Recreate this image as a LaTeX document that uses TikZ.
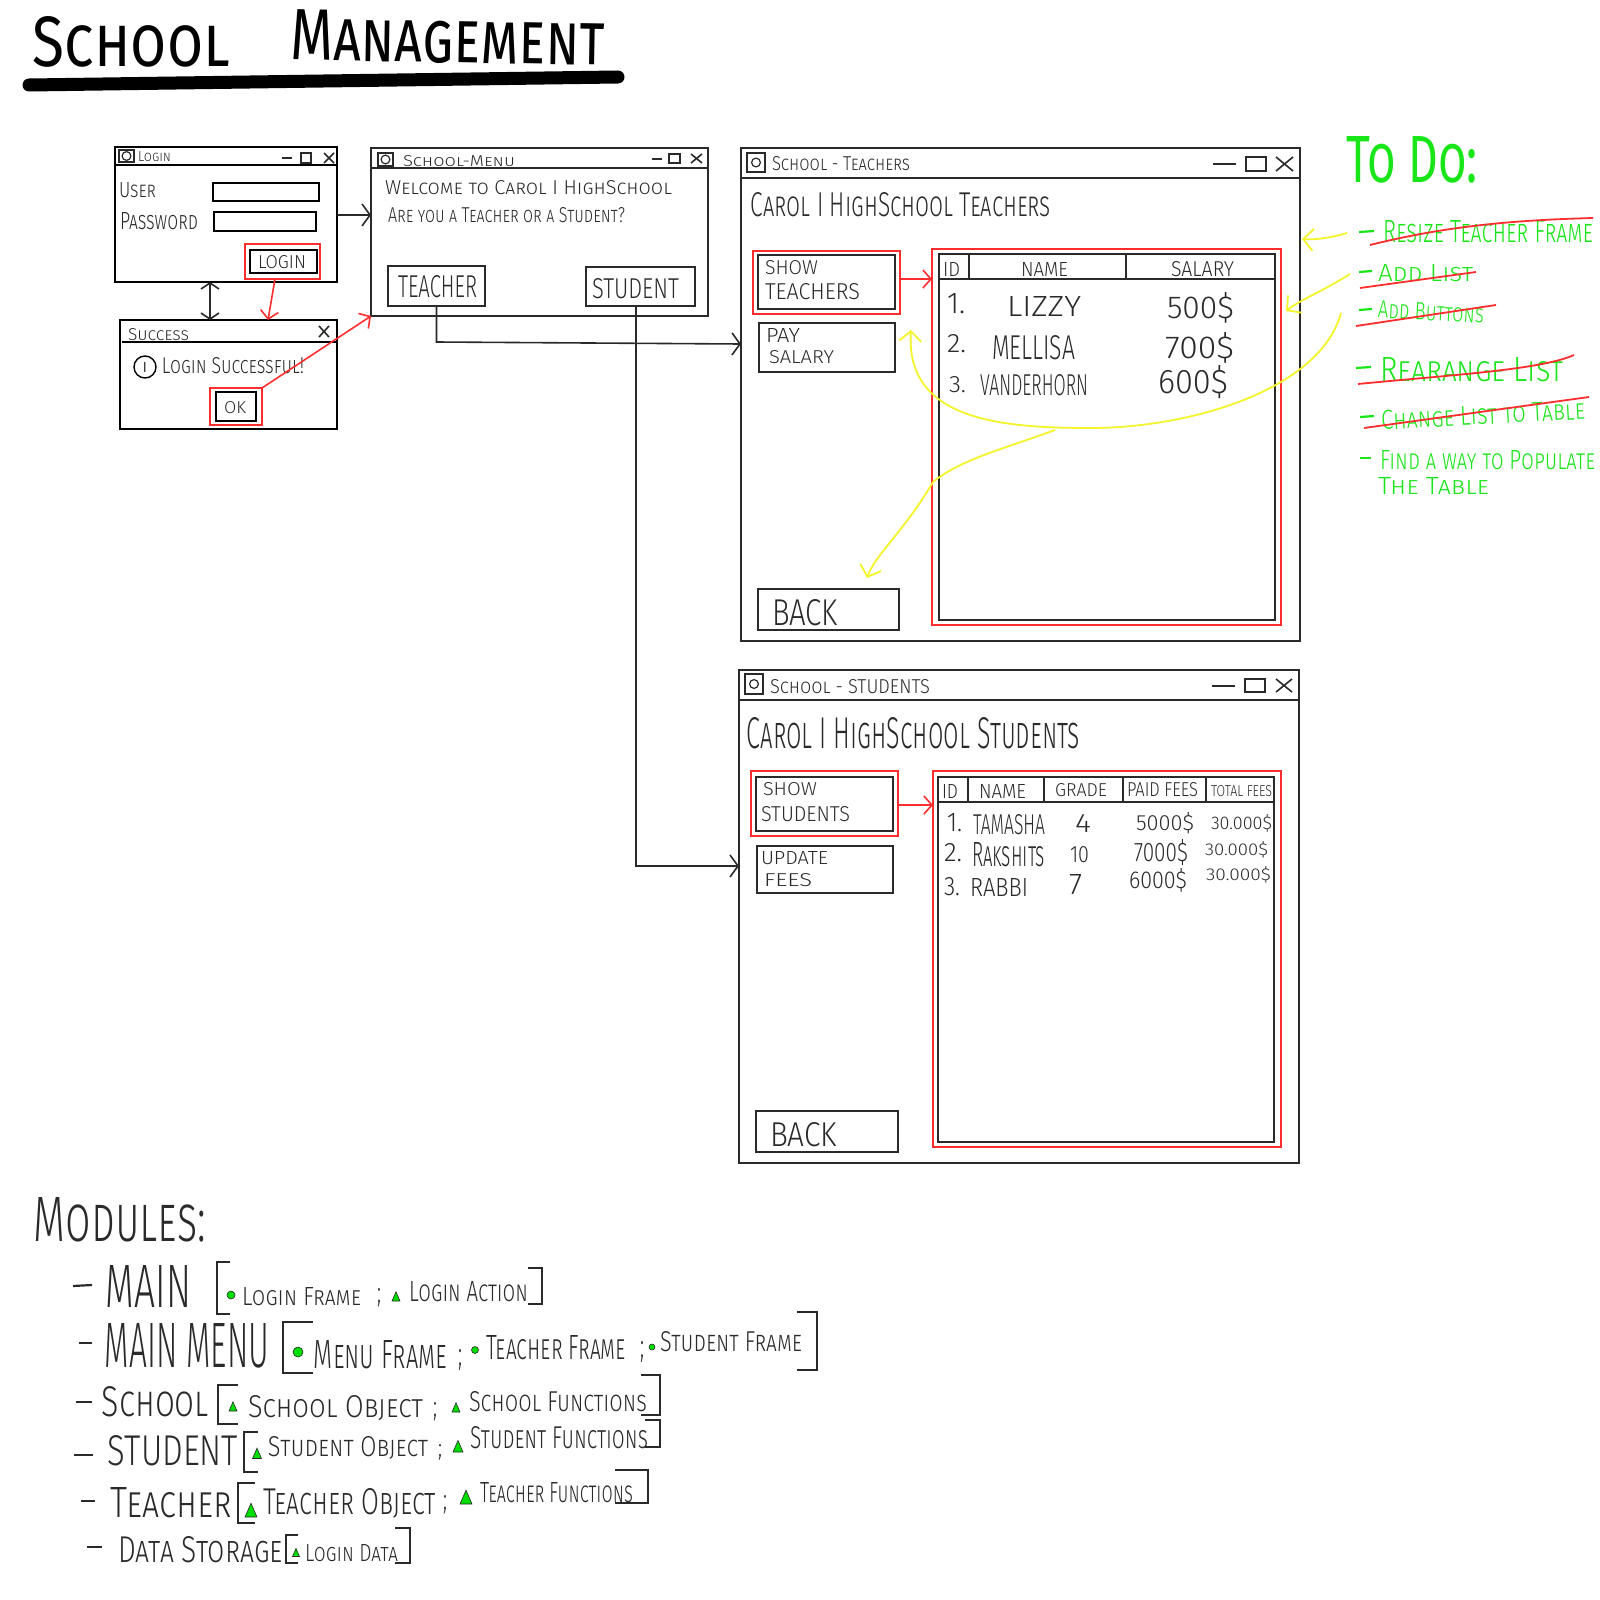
\documentclass[tikz,border=0pt]{standalone}
\usepackage{graphicx}
\usepackage{fontspec}
\usetikzlibrary{arrows.meta}
\newfontfamily\hand[Letters=SmallCaps]{Fira Sans Light}
\newfontfamily\handb[Letters=SmallCaps]{Fira Sans}
\definecolor{ink}{HTML}{2A2A2A}
\definecolor{rd}{HTML}{FF2E2E}
\definecolor{yl}{HTML}{F4F42A}
\definecolor{gr}{HTML}{19E619}
\definecolor{mk}{HTML}{00DD00}
\tikzset{
  lab/.style={inner sep=0pt,outer sep=0pt,text=ink,font=\hand},
  ttl/.style={text=black,font=\handb},
  todo/.style={text=gr},
  bx/.style={draw=ink,line width=1pt,inner sep=0pt,outer sep=0pt,rectangle},
  hv/.style={bx,draw=black,line width=1.4pt},
  rbx/.style={bx,draw=rd,line width=1pt},
  ln/.style={draw=ink,line width=1pt},
  blk/.style={draw=ink,line width=.8pt,-{Straight Barb[length=4pt,width=11pt,line width=.8pt]}},
  redarr/.style={draw=rd,line width=.8pt,-{Straight Barb[length=4pt,width=9pt,line width=.8pt]}},
  yel/.style={draw=yl,line width=.9pt,-{Straight Barb[length=5pt,width=11pt,line width=.9pt]}},
  strike/.style={draw=rd,line width=.9pt},
  dashbar/.style={draw=gr,line width=1.1pt},
  mdash/.style={draw=ink,line width=1.1pt},
  brk/.style={draw=ink,line width=.7pt},
  mkfill/.style={fill=mk,draw=ink,line width=.3pt}
}
% text fitted to a box: [options]{name}{x1}{x2}{y centre}{height}{text}
\newcommand{\lbl}[7][]{%
  \pgfmathsetlengthmacro\lblw{(#4-#3)*0.5pt}%
  \pgfmathsetlengthmacro\lblh{(#6)*0.5pt}%
  \node[lab,#1] (#2) at ({(#3+#4)/2},#5) {\resizebox{\lblw}{\lblh}{#7}};}
% box: [style]{name}{x1}{y1}{x2}{y2}
\newcommand{\bxn}[6][bx]{%
  \node[#1,minimum width={(#5-#3)*0.5pt},minimum height={(#6-#4)*0.5pt}] (#2) at ({(#3+#5)/2},{(#4+#6)/2}) {};}
\newcommand{\wicon}[4]{%
  \draw[ink,line width=.6pt] (#1,#2) rectangle (#3,#4);
  \draw[ink,line width=.6pt] ({(#1+#3)/2},{(#2+#4)/2}) circle[radius=2.2pt];}
\newcommand{\ctl}[9]{%
  \draw[ink,line width=.8pt] (#1,#2) -- (#3,#2);
  \draw[ink,line width=.8pt] (#4,#5) rectangle (#6,#7);
  \draw[ink,line width=.8pt] (#8,#5) -- (#9,#7) (#8,#7) -- (#9,#5);}
\newcommand{\tri}[3]{\filldraw[mkfill] ({#1-#3},{#2+#3}) -- ({#1+#3},{#2+#3}) -- (#1,{#2-#3*1.3}) -- cycle;}
\newcommand{\dotc}[3]{\filldraw[mkfill] (#1,#2) circle[radius=#3*0.5pt];}
\newcommand{\lbr}[4]{\draw[brk] (#2,#3) -- (#1,#3) -- (#1,#4) -- (#2,#4);}
\newcommand{\rbr}[4]{\draw[brk] (#1,#3) -- (#2,#3) -- (#2,#4) -- (#1,#4);}
\begin{document}
\begin{tikzpicture}[x=0.5pt,y=-0.5pt]
\useasboundingbox[fill=white] (0,0) rectangle (1600,1600);
% title
\lbl[ttl]{tSchool}{33}{230}{42}{50}{School}
\lbl[ttl,rotate=-1]{tMgmt}{291}{605}{38}{50}{Management}
\draw[black,line width=6.5pt,line cap=round] (29,85) -- (618,77);
% login window
\bxn[hv]{login}{115}{147}{337}{282}
\draw[hv] (115,165) -- (337,165);
\wicon{119}{150}{134}{162}
\lbl{tLogin}{138}{171}{157}{10}{Login}
\ctl{282}{158}{292}{301}{153}{311}{163}{324}{334}
\lbl{tUser}{119}{156}{190}{15}{User}
\bxn[hv]{fUser}{213}{183}{319}{201}
\lbl{tPass}{120}{198}{221}{17}{Password}
\bxn[hv]{fPass}{214}{212}{316}{231}
\bxn[rbx]{rLogin}{245}{244}{320}{279}
\bxn[hv]{bLogin}{250}{250}{317}{273}
\lbl{tLoginB}{258}{306}{262}{13}{LOGIN}
% success window
\bxn[hv]{success}{120}{320}{337}{429}
\draw[hv] (122,342) -- (337,342);
\lbl{tSucc}{128}{189}{335}{12}{Success}
\draw[ink,line width=.8pt] (319,326) -- (329,337) (319,337) -- (329,326);
\node[draw=black,circle,line width=.7pt,minimum size=11pt,inner sep=0pt,font=\small\hand] (iInfo) at (145,367) {i};
\lbl{tSuccMsg}{162}{304}{366}{16}{Login Successful!}
\bxn[rbx]{rOk}{210}{388}{262}{425}
\bxn[hv]{bOk}{216}{392}{256}{421}
\lbl{tOk}{224}{246}{408}{12}{OK}
% menu window
\bxn{menu}{371}{148}{708}{316}
\draw[ln] (371,168) -- (708,168);
\wicon{378}{153}{393}{166}
\lbl{tMenu}{403}{515}{161}{11}{School-Menu}
\ctl{652}{159}{662}{669}{154}{680}{163}{691}{702}
\lbl{tWelcome}{385}{672}{188}{14}{Welcome to Carol I HighSchool}
\lbl{tAre}{388}{625}{215}{15}{Are you a Teacher or a Student?}
\bxn{bTeacher}{388}{266}{485}{306}
\lbl{tTeacher}{398}{477}{287}{22}{TEACHER}
\bxn{bStudent}{586}{267}{695}{306}
\lbl{tStudent}{592}{679}{289}{20}{STUDENT}
% teachers window
\bxn{teachers}{741}{148}{1300}{641}
\draw[ln] (741,178) -- (1300,178);
\wicon{747}{153}{765}{172}
\lbl{tTW}{772}{910}{164}{14}{School - Teachers}
\ctl{1213}{164}{1236}{1246}{157}{1266}{171}{1276}{1293}
\lbl{tTH}{751}{1051}{205}{24}{Carol I HighSchool Teachers}
\bxn[rbx]{rShowT}{753}{251}{900}{314}
\bxn{bShowT}{758}{255}{895}{309}
\lbl{tShow}{765}{818}{268}{14}{SHOW}
\lbl{tTeachers}{765}{860}{292}{16}{TEACHERS}
\bxn{bPay}{759}{323}{895}{372}
\lbl{tPay}{766}{800}{335}{14}{PAY}
\lbl{tSal}{769}{834}{357}{13}{SALARY}
\bxn{bBackT}{758}{589}{899}{630}
\lbl{tBackT}{772}{838}{613}{26}{BACK}
\bxn[rbx]{rTableT}{932}{249}{1281}{625}
\bxn{tableT}{939}{254}{1275}{620}
\draw[ln] (939,279) -- (1275,279) (969,254) -- (969,279) (1126,254) -- (1126,279);
\lbl{tID}{943}{960}{269}{14}{ID}
\lbl{tName}{1021}{1068}{269}{14}{NAME}
\lbl{tSalary}{1171}{1234}{269}{15}{SALARY}
\lbl{r1a}{947}{965}{304}{20}{1.}
\lbl{r1b}{1007}{1081}{306}{20}{LIZZY}
\lbl{r1c}{1167}{1234}{308}{26}{500\$}
\lbl{r2a}{947}{966}{344}{18}{2.}
\lbl{r2b}{992}{1075}{348}{24}{MELLISA}
\lbl{r2c}{1165}{1234}{348}{26}{700\$}
\lbl{r3a}{949}{966}{385}{16}{3.}
\lbl{r3b}{980}{1088}{385}{21}{VANDERHORN}
\lbl{r3c}{1158}{1228}{382}{28}{600\$}
% students window
\bxn{students}{739}{670}{1299}{1163}
\draw[ln] (739,700) -- (1299,700);
\wicon{745}{674}{763}{694}
\lbl{tSW}{770}{930}{687}{14}{School - STUDENTS}
\ctl{1212}{686}{1235}{1245}{679}{1265}{692}{1276}{1292}
\lbl{tSH}{747}{1080}{733}{31}{Carol I HighSchool Students}
\bxn[rbx]{rShowS}{751}{771}{898}{836}
\bxn{bShowS}{756}{777}{893}{831}
\lbl{tShowS}{763}{817}{789}{13}{SHOW}
\lbl{tStudents}{761}{850}{814}{15}{STUDENTS}
\bxn{bFees}{757}{846}{893}{893}
\lbl{tUpdate}{761}{828}{858}{13}{UPDATE}
\lbl{tFees}{764}{812}{880}{13}{FEES}
\bxn{bBackS}{756}{1111}{898}{1152}
\lbl{tBackS}{770}{837}{1135}{24}{BACK}
\bxn[rbx]{rTableS}{933}{771}{1281}{1147}
\bxn{tableS}{938}{777}{1274}{1142}
\draw[ln] (938,802) -- (1274,802) (968,777) -- (968,802) (1044,777) -- (1044,802) (1123,777) -- (1123,802) (1206,777) -- (1206,802);
\lbl{hID}{942}{958}{791}{14}{ID}
\lbl{hName}{979}{1026}{791}{14}{NAME}
\lbl{hGrade}{1055}{1107}{790}{13}{GRADE}
\lbl{hPaid}{1127}{1198}{790}{14}{PAID FEES}
\lbl{hTotal}{1211}{1272}{791}{11}{TOTAL FEES}
\lbl{s1a}{947}{962}{823}{18}{1.}
\lbl{s1b}{973}{1045}{825}{20}{TAMASHA}
\lbl{s1c}{1075}{1091}{823}{18}{4}
\lbl{s1d}{1136}{1194}{823}{18}{5000\$}
\lbl{s1e}{1211}{1272}{823}{15}{30.000\$}
\lbl{s2a}{944}{962}{853}{18}{2.}
\lbl{s2b}{972}{1045}{855}{24}{Rakshits}
\lbl{s2c}{1070}{1089}{855}{16}{10}
\lbl{s2d}{1134}{1188}{853}{22}{7000\$}
\lbl{s2e}{1205}{1268}{850}{14}{30.000\$}
\lbl{s3a}{944}{960}{887}{18}{3.}
\lbl{s3b}{970}{1028}{887}{18}{RABBI}
\lbl{s3c}{1069}{1082}{885}{20}{7}
\lbl{s3d}{1129}{1187}{880}{20}{6000\$}
\lbl{s3e}{1206}{1271}{875}{14}{30.000\$}
% to do
\lbl[todo,font=\handb]{tToDo}{1346}{1478}{160}{46}{To Do:}
\lbl[todo]{td1}{1383}{1593}{232}{22}{Resize Teacher Frame}
\draw[dashbar] (1359,232) -- (1374,231);
\draw[strike] (1370,245) .. controls (1450,225) and (1520,220) .. (1593,218);
\lbl[todo]{td2}{1378}{1473}{273}{17}{Add List}
\draw[dashbar] (1359,272) -- (1372,271);
\draw[strike] (1360,288) -- (1476,272);
\lbl[todo,rotate=-3]{td3}{1378}{1484}{312}{17}{Add Buttons}
\draw[dashbar] (1359,310) -- (1372,309);
\draw[strike] (1356,326) -- (1496,305);
\lbl[todo]{td4}{1380}{1563}{370}{24}{Rearange List}
\draw[dashbar] (1356,368) -- (1371,367);
\draw[strike] (1358,384) .. controls (1450,375) and (1540,370) .. (1574,355);
\lbl[todo,rotate=3]{td5}{1381}{1585}{415}{19}{Change List to Table}
\draw[dashbar] (1360,417) -- (1374,416);
\draw[strike] (1364,428) -- (1589,397);
\lbl[todo]{td6}{1380}{1595}{460}{19}{Find a way to Populate}
\draw[dashbar] (1360,458) -- (1371,458);
\lbl[todo]{td7}{1378}{1489}{486}{17}{The Table}
% connectors
\coordinate (yLM) at (0,215);
\coordinate (yTS) at (0,342);
\coordinate (yTE) at (0,344);
\coordinate (xST) at (636,0);
\coordinate (yST) at (0,866);
\coordinate (yTA) at (0,279);
\coordinate (ySA) at (0,805);
\coordinate (xLS) at (275,0);
\coordinate (xLE) at (268,0);
\coordinate (xDB) at (210,0);
\draw[blk] (login.east |- yLM) -- (menu.west |- yLM);
\draw[draw=ink,line width=.8pt,{Straight Barb[length=3pt,width=9pt,line width=.8pt]}-{Straight Barb[length=3pt,width=9pt,line width=.8pt]}] (login.south -| xDB) -- (success.north -| xDB);
\draw[redarr] (rLogin.south -| xLS) -- (success.north -| xLE);
\draw[redarr] (rOk.north east) -- (menu.south west);
\draw[blk] (bTeacher.south) -- (bTeacher.south |- yTS) -- (teachers.west |- yTE);
\draw[blk] (bStudent.south -| xST) -- (xST |- yST) -- (students.west |- yST);
\draw[redarr] (rShowT.east |- yTA) -- (rTableT.west |- yTA);
\draw[redarr] (rShowS.east |- ySA) -- (rTableS.west |- ySA);
\coordinate (y1) at (1347,233);
\coordinate (y2) at (1350,274);
\coordinate (y3) at (1341,313);
\coordinate (y4) at (1055,430);
\coordinate (y1t) at (1302,239);
\coordinate (y2t) at (1286,311);
\coordinate (y3t) at (911,330);
\coordinate (y4t) at (867,578);
\draw[yel] (y1) .. controls (1330,238) and (1315,240) .. (y1t);
\draw[yel] (y2) .. controls (1325,290) and (1300,300) .. (y2t);
\draw[yel] (y3) .. controls (1320,390) and (1190,428) .. (1091,428) .. controls (1000,428) and (905,420) .. (y3t);
\draw[yel] (y4) .. controls (1000,450) and (960,460) .. (933,482) .. controls (905,530) and (875,555) .. (y4t);
% modules
\lbl{tMod}{34}{206}{1220}{44}{Modules:}
\draw[mdash] (73,1286) -- (92,1285);
\lbl{mMain}{106}{191}{1286}{42}{MAIN}
\lbr{217}{230}{1262}{1314}
\dotc{231}{1295}{4}
\lbl{mLF}{242}{361}{1297}{18}{Login Frame}
\lbl{mS1}{377}{381}{1298}{14}{;}
\tri{396}{1297}{4}
\lbl{mLA}{409}{528}{1292}{20}{Login Action}
\rbr{528}{542}{1268}{1304}
\draw[mdash] (79,1343) -- (92,1343);
\lbl{mMM}{105}{269}{1346}{44}{MAIN MENU}
\lbr{283}{313}{1322}{1373}
\dotc{298}{1352}{5}
\lbl{mMF}{314}{447}{1355}{28}{Menu Frame}
\lbl{mS2}{458}{462}{1360}{16}{;}
\dotc{475}{1350}{3.5}
\lbl{mTF}{486}{626}{1348}{24}{Teacher Frame}
\lbl{mS3}{640}{644}{1352}{16}{;}
\dotc{652}{1347}{3}
\lbl{mSF}{660}{802}{1342}{20}{Student Frame}
\rbr{797}{817}{1312}{1370}
\draw[mdash] (76,1402) -- (92,1402);
\lbl{mSch}{102}{209}{1402}{30}{School}
\lbr{218}{238}{1385}{1424}
\tri{233}{1407}{4}
\lbl{mSO}{248}{423}{1408}{22}{School Object}
\lbl{mS4}{433}{437}{1412}{14}{;}
\tri{456}{1408}{4}
\lbl{mSFn}{469}{647}{1402}{20}{School Functions}
\rbr{641}{660}{1375}{1415}
\draw[mdash] (74,1455) -- (93,1455);
\lbl{mStu}{108}{238}{1451}{30}{STUDENT}
\lbr{244}{258}{1432}{1472}
\tri{257}{1454}{4.5}
\lbl{mStO}{268}{428}{1448}{20}{Student Object}
\lbl{mS5}{438}{442}{1452}{12}{;}
\tri{458}{1447}{5}
\lbl{mStF}{470}{648}{1438}{22}{Student Functions}
\rbr{645}{660}{1420}{1447}
\draw[mdash] (81,1501) -- (95,1501);
\lbl{mTea}{111}{232}{1503}{30}{Teacher}
\lbr{238}{255}{1483}{1523}
\tri{251}{1511}{6}
\lbl{mTO}{263}{436}{1503}{26}{Teacher Object}
\lbl{mS6}{443}{447}{1505}{14}{;}
\tri{466}{1498}{6}
\lbl{mTFn}{480}{633}{1493}{20}{Teacher Functions}
\rbr{615}{648}{1470}{1503}
\draw[mdash] (87,1547) -- (102,1547);
\lbl{mDS}{118}{283}{1550}{26}{Data Storage}
\lbr{286}{298}{1535}{1563}
\tri{296}{1553}{3.5}
\lbl{mLD}{305}{398}{1553}{17}{Login Data}
\rbr{395}{410}{1528}{1563}
\end{tikzpicture}
\end{document}
